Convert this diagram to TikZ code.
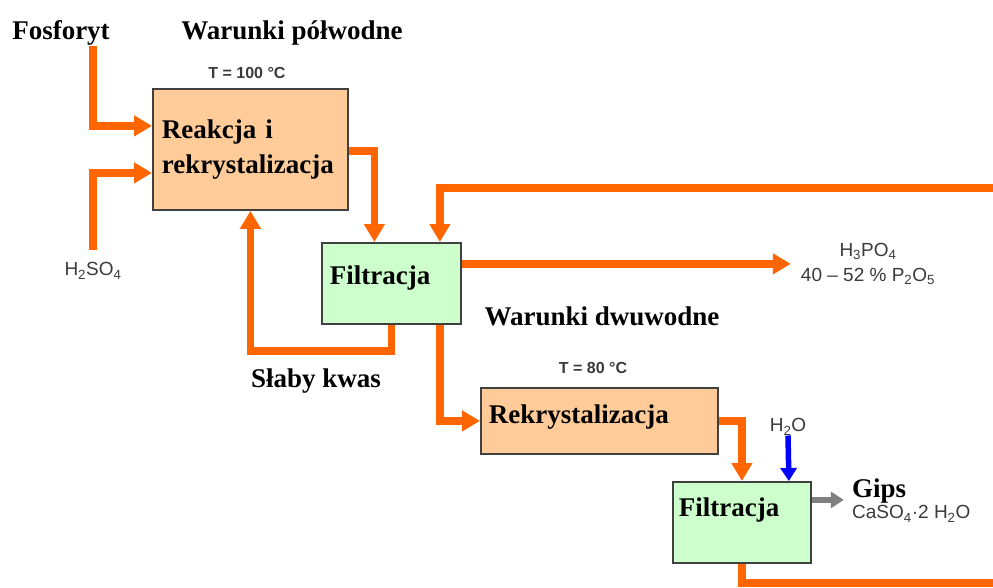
\documentclass[tikz,border=0pt]{standalone}
\usepackage{fontspec}
\setmainfont{Liberation Serif}
\setsansfont{Liberation Sans}
\usepackage{tikz}
\usetikzlibrary{arrows.meta,positioning}
\definecolor{FlowOrange}{HTML}{FF6600}
\definecolor{StageTan}{HTML}{FFCC99}
\definecolor{StageMint}{HTML}{CCFFCC}
\definecolor{FrameGrey}{HTML}{404040}
\definecolor{LabelGrey}{HTML}{3A3A3A}
\definecolor{WaterBlue}{HTML}{0000FF}
\definecolor{CakeGrey}{HTML}{808080}

\begin{document}
\begin{tikzpicture}[
            x=1pt, y=-1pt,
            line join=miter,
            stage/.style={
                    draw=FrameGrey,
                    line width=1.8pt,
                    inner ysep=0pt,
                    anchor=north west,
                    align=left,
                    font=\fontsize{27}{35}\selectfont\bfseries
                },
            hotstage/.style={stage, fill=StageTan},
            filterstage/.style={stage, fill=StageMint},
            pipe/.style={draw=FlowOrange, line width=7.5pt},
            flow/.style={pipe, -{Triangle[length=18pt,width=20pt]}},
            waterflow/.style={draw=WaterBlue, line width=5.5pt, -{Triangle[length=13pt,width=16pt]}},
            cakeflow/.style={draw=CakeGrey, line width=5.5pt, -{Triangle[length=13pt,width=16pt]}},
            title/.style={inner sep=0pt, font=\fontsize{27}{30}\selectfont\bfseries},
            chem/.style={
                    inner sep=0pt,
                    align=center,
                    text=LabelGrey,
                    font=\sffamily\fontsize{19}{25}\selectfont
                },
            temp/.style={inner sep=0pt, text=LabelGrey, font=\sffamily\bfseries\fontsize{16}{19}\selectfont},
        ]

        \useasboundingbox (0,0) rectangle (993,587);

        % Boxes
        \node[hotstage, inner xsep=9pt, text width=177pt, minimum height=121pt] (react) at (152,88)
        {Reakcja i\\rekrystalizacja};
        \node[filterstage, inner xsep=8pt, text width=123pt, minimum height=81pt,
            text height=18pt, text depth=16pt] (filt1) at (321,242) {Filtracja};
        \node[hotstage, inner xsep=8pt, text width=221pt, minimum height=66pt,
            text height=18pt, text depth=12pt] (rekr) at (480,387) {Rekrystalizacja};
        \node[filterstage, inner xsep=6pt, text width=126pt, minimum height=81pt,
            text height=18pt, text depth=29pt] (filt2) at (672,481) {Filtracja};

        % Labels
        \node[title] (fosforyt) at (61,33) {Fosforyt};
        \node[title] (halfhyd) at (292,33) {Warunki półwodne};
        \node[temp] (t100) at (247,73) {T = 100 °C};
        \node[chem] (h2so4) at (93,271) {H\textsubscript{2}SO\textsubscript{4}};
        \node[chem] (acid) at (868,264)
        {H\textsubscript{3}PO\textsubscript{4}\\40 – 52 \% P\textsubscript{2}O\textsubscript{5}};
        \node[title] (dihyd) at (602,316) {Warunki dwuwodne};
        \node[title] (weak) at (316,381) {Słaby kwas};
        \node[temp] (t80) at (593,368) {T = 80 °C};
        \node[chem] (water) at (788,427) {H\textsubscript{2}O};
        \node[title, anchor=west] (gips) at (852,491) {Gips};
        \node[chem, anchor=west] (gipsform) at (852,514) {CaSO\textsubscript{4}·2 H\textsubscript{2}O};

        % loop ends at the edge
        \coordinate (loopin) at (993,188);
        \coordinate (loopout) at (993,583);

        % Flows
        \draw[flow] ([xshift=32pt]fosforyt.south) |- ([yshift=23.5pt]react.west);
        \draw[flow] ([yshift=13pt]h2so4.north) |- ([yshift=-23.5pt]react.west);
        \draw[flow] ([yshift=-1.5pt]react.east) -| ([xshift=-17pt]filt1.north);
        \draw[flow] (loopin) -| ([xshift=48.5pt]filt1.north);
        \draw[flow] ([yshift=19.5pt]filt1.east) -- ++(329,0);
        \draw[flow] (filt1.south) -- ++(0,26) -| (react.south);
        \draw[flow] ([xshift=48.5pt]filt1.south) |- (rekr.west);
        \draw[flow] (rekr.east) -| (filt2.north);
        \draw[waterflow] (water.south) -- ([xshift=47pt]filt2.north);
        \draw[cakeflow] ([yshift=22.5pt]filt2.east) -- ++(32,0);
        \draw[pipe] (filt2.south) |- (loopout);

    \end{tikzpicture}
\end{document}
